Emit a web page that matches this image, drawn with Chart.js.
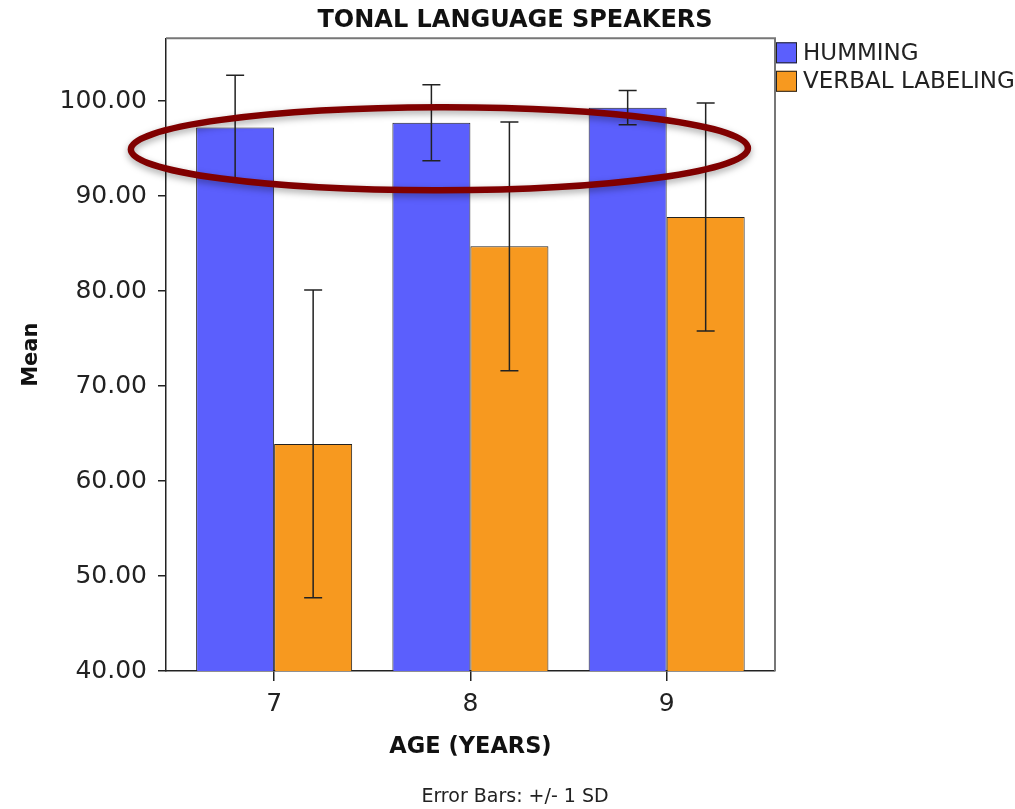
<!DOCTYPE html>
<html><head><meta charset="utf-8">
<script src="https://cdn.jsdelivr.net/npm/chart.js@4.4.0/dist/chart.umd.min.js"></script>
<style>html,body{margin:0;padding:0;background:#fff;}</style>
</head><body>
<canvas id="c" width="1015" height="809"></canvas>
<script>
// ---- data ----
const ages = [7, 8, 9];
const seriesNames = ['HUMMING', 'VERBAL LABELING'];
const hummingMean = [97.2, 97.7, 99.3];
const hummingSD = [5.5, 4.0, 1.8];
const verbalMean = [63.9, 84.7, 87.8];
const verbalSD = [16.2, 13.1, 12.0];
const yTickValues = [40, 50, 60, 70, 80, 90, 100];
const titleText = 'TONAL LANGUAGE SPEAKERS';
const xTitle = 'AGE (YEARS)';
const yTitle = 'Mean';
const footnote = 'Error Bars: +/- 1 SD';
// highlight ellipse annotation in data units
const highlight = { x: 7.842, y: 94.97, rx: 1.572, ry: 4.37 };

const FONT = 'DejaVu Sans';
const COLORS = ['#5b5ffd', '#f7991f'];

const sideLegend = {
  id: 'sideLegend',
  beforeInit(chart) {
    const box = {
      position: 'right', weight: 1000, fullSize: false, options: {},
      isHorizontal() { return false; },
      getPadding() { return { left: 0, right: 0, top: 0, bottom: 0 }; },
      update(maxWidth, maxHeight) { this.width = 240; this.height = maxHeight; },
      draw() {
        const ctx = chart.ctx;
        ctx.save();
        chart.data.datasets.forEach((ds, i) => {
          const bx = this.left + 1, by = this.top + 4 + i * 28.5;
          ctx.fillStyle = ds.backgroundColor;
          ctx.fillRect(bx, by, 21, 21);
          ctx.strokeStyle = '#222'; ctx.lineWidth = 1;
          ctx.strokeRect(bx + 0.5, by + 0.5, 20, 20);
          ctx.fillStyle = '#222';
          ctx.font = '23px "' + FONT + '"';
          ctx.textBaseline = 'middle'; ctx.textAlign = 'left';
          ctx.fillText(ds.label, bx + 27, by + 11.5);
        });
        ctx.restore();
      }
    };
    Chart.layouts.addBox(chart, box);
  }
};

const frame = {
  id: 'frame',
  beforeDatasetsDraw(chart) {
    const {ctx, chartArea: a} = chart;
    ctx.save();
    ctx.strokeStyle = '#777'; ctx.lineWidth = 2;
    ctx.beginPath();
    ctx.moveTo(a.left, a.top); ctx.lineTo(a.right, a.top); ctx.lineTo(a.right, a.bottom);
    ctx.stroke();
    ctx.restore();
  }
};

const errorBars = {
  id: 'errorBars',
  afterDatasetsDraw(chart) {
    const ctx = chart.ctx, ys = chart.scales.y;
    ctx.save();
    ctx.strokeStyle = '#222'; ctx.lineWidth = 1.5;
    chart.data.datasets.forEach((ds, i) => {
      const meta = chart.getDatasetMeta(i);
      meta.data.forEach((bar, j) => {
        const m = ds.data[j].y, sd = ds.errors[j];
        const t = ys.getPixelForValue(m + sd), b = ys.getPixelForValue(m - sd);
        const x = bar.x;
        ctx.beginPath();
        ctx.moveTo(x, t); ctx.lineTo(x, b);
        ctx.moveTo(x - 9, t); ctx.lineTo(x + 9, t);
        ctx.moveTo(x - 9, b); ctx.lineTo(x + 9, b);
        ctx.stroke();
      });
    });
    ctx.restore();
  }
};

const ellipse = {
  id: 'ellipse',
  afterDraw(chart) {
    const ctx = chart.ctx, xs = chart.scales.x, ys = chart.scales.y;
    const cx = xs.getPixelForValue(highlight.x), cy = ys.getPixelForValue(highlight.y);
    const rx = xs.getPixelForValue(highlight.x + highlight.rx) - cx;
    const ry = cy - ys.getPixelForValue(highlight.y + highlight.ry);
    ctx.save();
    ctx.shadowColor = 'rgba(0,0,0,0.35)'; ctx.shadowBlur = 7; ctx.shadowOffsetY = 3;
    ctx.strokeStyle = '#800000'; ctx.lineWidth = 6.5;
    ctx.beginPath();
    ctx.ellipse(cx, cy, rx, ry, -0.002, 0, Math.PI * 2);
    ctx.stroke();
    ctx.restore();
  }
};

new Chart(document.getElementById('c'), {
  type: 'bar',
  data: {
    datasets: [
      { label: seriesNames[0], data: ages.map((a, i) => ({x: a, y: hummingMean[i]})), errors: hummingSD,
        backgroundColor: COLORS[0], borderColor: '#222', borderWidth: 1, borderSkipped: false },
      { label: seriesNames[1], data: ages.map((a, i) => ({x: a, y: verbalMean[i]})), errors: verbalSD,
        backgroundColor: COLORS[1], borderColor: '#222', borderWidth: 1, borderSkipped: false }
    ]
  },
  options: {
    responsive: false, animation: false, devicePixelRatio: 1,
    categoryPercentage: 0.795, barPercentage: 1.0,
    layout: { padding: { left: 15, right: 0, top: 0, bottom: 0 } },
    plugins: {
      legend: { display: false },
      tooltip: { enabled: false },
      title: { display: true, text: titleText, color: '#111',
        font: { family: FONT, size: 24, weight: 'bold' }, padding: { top: 6.5, bottom: 3 } },
      subtitle: { display: true, text: footnote, position: 'bottom', color: '#222',
        font: { family: FONT, size: 19 }, padding: { top: 0, bottom: 1 } }
    },
    scales: {
      x: {
        type: 'linear', min: 6.449, max: 9.552, offset: false,
        afterBuildTicks: s => { s.ticks = ages.map(v => ({value: v})); },
        afterFit: s => { s.height = 114.2; },
        ticks: { callback: v => String(v), color: '#222', font: { family: FONT, size: 25 }, padding: 8, maxRotation: 0 },
        grid: { offset: false, drawOnChartArea: false, drawTicks: true, tickLength: 10, color: '#222', lineWidth: 1.5 },
        border: { display: true, color: '#222', width: 1.5 },
        title: { display: true, text: xTitle, color: '#111', font: { family: FONT, size: 22.5, weight: 'bold' }, padding: { top: 0, bottom: 25 } }
      },
      y: {
        min: 40, max: 106.6,
        afterBuildTicks: s => { s.ticks = yTickValues.map(v => ({value: v})); },
        afterFit: s => { s.width = 151; },
        ticks: { callback: v => Number(v).toFixed(2), color: '#222', font: { family: FONT, size: 25 }, padding: 11 },
        grid: { drawOnChartArea: false, drawTicks: true, tickLength: 8, color: '#222', lineWidth: 1.5 },
        border: { display: true, color: '#222', width: 1.5 },
        title: { display: true, text: yTitle, color: '#111', font: { family: FONT, size: 21, weight: 'bold' }, padding: { top: 4.4, bottom: 0 } }
      }
    }
  },
  plugins: [sideLegend, frame, errorBars, ellipse]
});
</script>
</body></html>
